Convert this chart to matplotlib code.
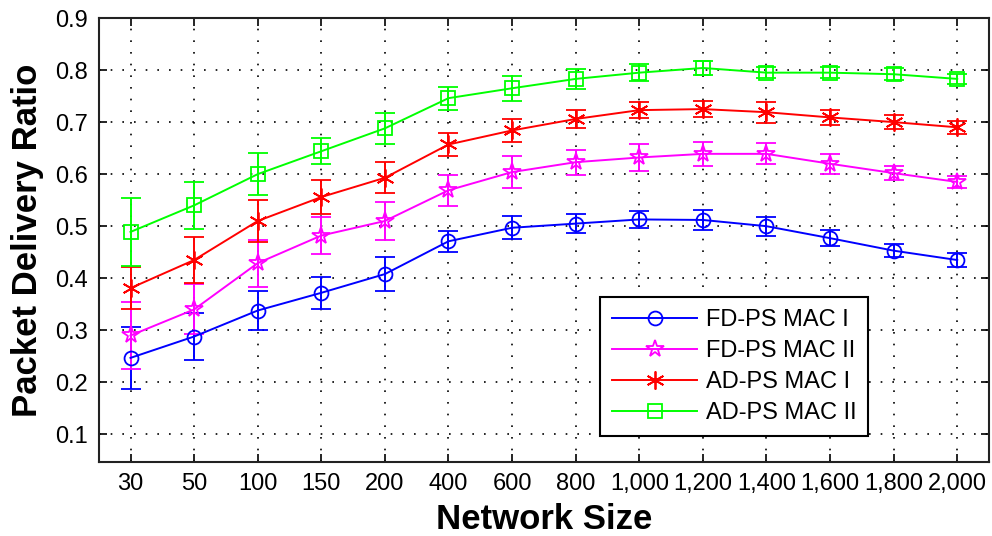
import matplotlib
matplotlib.use("Agg")
import matplotlib.pyplot as plt
import numpy as np

plt.rcParams['font.family'] = ['Liberation Sans', 'DejaVu Sans']

categories = ["30", "50", "100", "150", "200", "400", "600", "800",
              "1,000", "1,200", "1,400", "1,600", "1,800", "2,000"]

fd_mac1 = [0.247, 0.288, 0.338, 0.372, 0.408, 0.471, 0.497, 0.505, 0.513, 0.512, 0.500, 0.477, 0.453, 0.435]
fd_mac1_err = [0.060, 0.045, 0.037, 0.031, 0.033, 0.020, 0.022, 0.019, 0.017, 0.019, 0.018, 0.015, 0.013, 0.013]

fd_mac2 = [0.290, 0.340, 0.429, 0.482, 0.510, 0.569, 0.604, 0.623, 0.632, 0.639, 0.639, 0.620, 0.602, 0.585]
fd_mac2_err = [0.065, 0.048, 0.045, 0.035, 0.036, 0.030, 0.030, 0.024, 0.025, 0.023, 0.020, 0.019, 0.014, 0.012]

ad_mac1 = [0.381, 0.435, 0.510, 0.556, 0.593, 0.657, 0.684, 0.706, 0.723, 0.725, 0.719, 0.709, 0.700, 0.690]
ad_mac1_err = [0.041, 0.045, 0.040, 0.032, 0.030, 0.023, 0.022, 0.018, 0.015, 0.015, 0.020, 0.015, 0.013, 0.013]

ad_mac2 = [0.489, 0.540, 0.600, 0.644, 0.688, 0.746, 0.765, 0.783, 0.795, 0.804, 0.795, 0.795, 0.792, 0.783]
ad_mac2_err = [0.065, 0.045, 0.040, 0.025, 0.030, 0.022, 0.024, 0.019, 0.016, 0.013, 0.010, 0.010, 0.012, 0.010]

labels = ["FD-PS MAC I", "FD-PS MAC II", "AD-PS MAC I", "AD-PS MAC II"]

fig = plt.figure(figsize=(9.92, 5.36), dpi=100)
ax = fig.add_axes([0.0995, 0.1386, 0.8975, 0.8278])

x = np.arange(len(categories))
series = [
    (fd_mac1, fd_mac1_err, (0, 0, 1), 'o', 10),
    (fd_mac2, fd_mac2_err, (1, 0, 1), '*', 13),
    (ad_mac1, ad_mac1_err, (1, 0, 0), (6, 2, 0), 13),
    (ad_mac2, ad_mac2_err, (0, 1, 0), 's', 10),
]
handles = []
for (vals, err, col, mk, ms), lab in zip(series, labels):
    h = ax.errorbar(x, vals, yerr=err, color=col, marker=mk, markersize=ms,
                    markerfacecolor='none', markeredgecolor=col, markeredgewidth=1.3,
                    linewidth=1.4, elinewidth=1.4, capsize=7, capthick=1.4,
                    label=lab, zorder=3)
    handles.append(h[0])

ax.set_xlim(-0.5, 13.5)
ax.set_ylim(0.0475, 0.9)
ax.set_xticks(x)
ax.set_xticklabels(categories)
yt = [0.1, 0.2, 0.3, 0.4, 0.5, 0.6, 0.7, 0.8, 0.9]
ax.set_yticks(yt)
ax.set_yticklabels([f"{v:.1f}" for v in yt])
ax.tick_params(direction='in', top=True, right=True, length=6, width=1.2,
               labelsize=17, colors='black', pad=8)
ax.grid(True, color='black', linestyle=(0, (1, 6)), linewidth=1.2)
for s in ax.spines.values():
    s.set_linewidth(1.5)
    s.set_color('#222222')

ax.set_xlabel("Network Size", fontsize=25, fontweight='bold', labelpad=6)
ax.set_ylabel("Packet Delivery Ratio", fontsize=25, fontweight='bold', labelpad=8)

leg = ax.legend(handles=handles, labels=labels, loc='lower right',
                bbox_to_anchor=(0.864, 0.058), fontsize=17, frameon=True,
                fancybox=False, edgecolor='black', framealpha=1,
                handlelength=3.6, handletextpad=0.35, borderpad=0.5,
                labelspacing=0.38, borderaxespad=0)
leg.get_frame().set_linewidth(1.5)

fig.savefig("out.png", dpi=100)
